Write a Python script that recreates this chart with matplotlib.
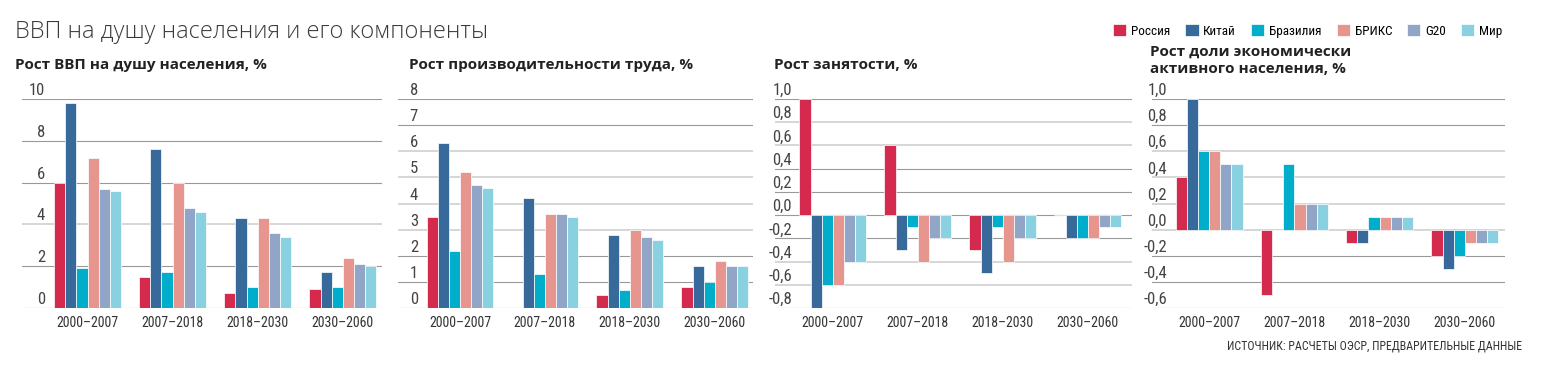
import matplotlib
matplotlib.use("Agg")
import matplotlib.pyplot as plt
from matplotlib import font_manager
import numpy as np

# Data
periods = ["2000–2007", "2007–2018", "2018–2030", "2030–2060"]
countries = ["Россия", "Китай", "Бразилия", "БРИКС", "G20", "Мир"]
colors = ["#d42a4d", "#376a9a", "#00aecc", "#e6968e", "#91a5c6", "#89d0e0"]

gdp_pc = [
    [6.0, 1.5, 0.7, 0.9],     # Россия
    [9.8, 7.6, 4.3, 1.7],     # Китай
    [1.9, 1.7, 1.0, 1.0],     # Бразилия
    [7.2, 6.0, 4.3, 2.4],     # БРИКС
    [5.7, 4.8, 3.6, 2.1],     # G20
    [5.6, 4.6, 3.4, 2.0],     # Мир
]
productivity = [
    [3.5, 0.0, 0.5, 0.8],
    [6.3, 4.2, 2.8, 1.6],
    [2.2, 1.3, 0.7, 1.0],
    [5.2, 3.6, 3.0, 1.8],
    [4.7, 3.6, 2.7, 1.6],
    [4.6, 3.5, 2.6, 1.6],
]
employment = [
    [1.0, 0.6, -0.3, 0.0],
    [-0.8, -0.3, -0.5, -0.2],
    [-0.6, -0.1, -0.1, -0.2],
    [-0.6, -0.4, -0.4, -0.2],
    [-0.4, -0.2, -0.2, -0.1],
    [-0.4, -0.2, -0.2, -0.1],
]
active_share = [
    [0.4, -0.5, -0.1, -0.2],
    [1.0, 0.0, -0.1, -0.3],
    [0.6, 0.5, 0.1, -0.2],
    [0.6, 0.2, 0.1, -0.1],
    [0.5, 0.2, 0.1, -0.1],
    [0.5, 0.2, 0.1, -0.1],
]

titles = [
    "Рост ВВП на душу населения, %",
    "Рост производительности труда, %",
    "Рост занятости, %",
    "Рост доли экономически\nактивного населения, %",
]

# pick fonts that exist here
fl = font_manager.fontManager.ttflist


def pick(cands, default):
    for name, stretch, weight in cands:
        for f in fl:
            if f.name == name and (stretch is None or f.stretch == stretch) \
                    and (weight is None or f.weight == weight):
                d = dict(family=name)
                if stretch:
                    d["fontstretch"] = stretch
                if weight:
                    d["fontweight"] = weight
                return d
    return default


narrow = pick([("Liberation Sans Narrow", None, None),
               ("Roboto Condensed", None, None),
               ("Noto Sans", "condensed", 400),
               ("Noto Sans", "semi-condensed", 400),
               ("Open Sans", "condensed", 400),
               ("Open Sans", "semi-condensed", 400),
               ("DejaVu Sans", "condensed", 400)],
              dict(family="Roboto"))
light = pick([("Open Sans", None, 300), ("Noto Sans", "normal", 300),
              ("Roboto", None, 300), ("Lato", None, 300)],
             dict(family="Open Sans"))
heading = dict(family="Open Sans", fontweight="bold")

W, H = 1548, 372
fig = plt.figure(figsize=(W / 100, H / 100), dpi=100)

# panel layout in pixels
panels = [
    dict(data=gdp_pc, l=22, r=382, xlim=(-0.77, 3.46), ylim=(0, 10),
         ticks=np.arange(0, 11, 2), light=[4], off=23, fmt="{:.0f}", tx=15),
    dict(data=productivity, l=398, r=753, xlim=(-0.73, 3.45), ylim=(0, 8),
         ticks=np.arange(0, 9, 1), light=[3, 4, 5, 6], off=20, fmt="{:.0f}", tx=409),
    dict(data=employment, l=775, r=1132, xlim=(-0.68, 3.52), ylim=(-0.8, 1.0),
         ticks=np.round(np.arange(-0.8, 1.01, 0.2), 1), light=[0.8, 0.6, -0.4, -0.6],
         off=17, fmt="{:.1f}", tx=774),
    dict(data=active_share, l=1152, r=1505, xlim=(-0.67, 3.47), ylim=(-0.6, 1.0),
         ticks=np.round(np.arange(-0.6, 1.01, 0.2), 1), light=[0.6, 0.4, 0.2, 0.0],
         off=15, fmt="{:.1f}", tx=1150),
]

top, bottom = 99, 308
w = 0.131
x = np.arange(len(periods))
handles = []

for k, p in enumerate(panels):
    ax = fig.add_axes([p["l"] / W, 1 - bottom / H, (p["r"] - p["l"]) / W, (bottom - top) / H])
    for s in ax.spines.values():
        s.set_visible(False)
    ax.set_xlim(*p["xlim"])
    ax.set_ylim(*p["ylim"])
    ax.set_yticks([])

    for t in p["ticks"]:
        is_light = any(abs(t - v) < 1e-6 for v in p["light"])
        ax.axhline(t, color="#cccccc" if is_light else "#999999",
                   lw=1.1 if is_light else 0.8, zorder=1)
        lab = p["fmt"].format(t).replace(".", ",")
        if lab == "-0,0":
            lab = "0,0"
        ax.annotate(lab, xy=(0, t), xycoords=("axes fraction", "data"),
                    xytext=(p["off"], 4), textcoords="offset pixels",
                    ha="right", va="baseline", fontsize=12, color="#444444",
                    **narrow)

    for i, c in enumerate(countries):
        b = ax.bar(x + (i - 2.5) * w, p["data"][i], width=w, color=colors[i],
                   edgecolor="white", linewidth=0.5, zorder=2, label=c)
        if k == 0:
            handles.append(b)

    ax.set_xticks(x)
    ax.set_xticklabels(periods, fontsize=10, color="#333333", **narrow)
    ax.tick_params(axis="x", length=0, pad=6)

    two = "\n" in titles[k]
    fig.text(p["tx"] / W, 1 - (45 if two else 65) / H, titles[k], ha="left",
             va="top" if two else "center", fontsize=11, color="#222222",
             linespacing=1.3, **heading)

fig.text(15 / W, 1 - 32 / H, "ВВП на душу населения и его компоненты",
         ha="left", va="center", fontsize=17, color="#3a3a3a", **light)

legend_prop = font_manager.FontProperties(family=narrow["family"],
                                          stretch=narrow.get("fontstretch", "normal"),
                                          size=9.5)
fig.legend(handles=handles, labels=countries, loc="center right",
           bbox_to_anchor=(1502 / W, 1 - 31 / H), ncol=6, frameon=False,
           handlelength=1.0, handleheight=1.0, handletextpad=0.35,
           columnspacing=1.15, borderpad=0, borderaxespad=0, prop=legend_prop)

fig.text(1522 / W, 1 - 346 / H, "ИСТОЧНИК: РАСЧЕТЫ ОЭСР, ПРЕДВАРИТЕЛЬНЫЕ ДАННЫЕ",
         ha="right", va="center", fontsize=8.6, color="#333333", **narrow)

fig.savefig("out.png", dpi=100)
